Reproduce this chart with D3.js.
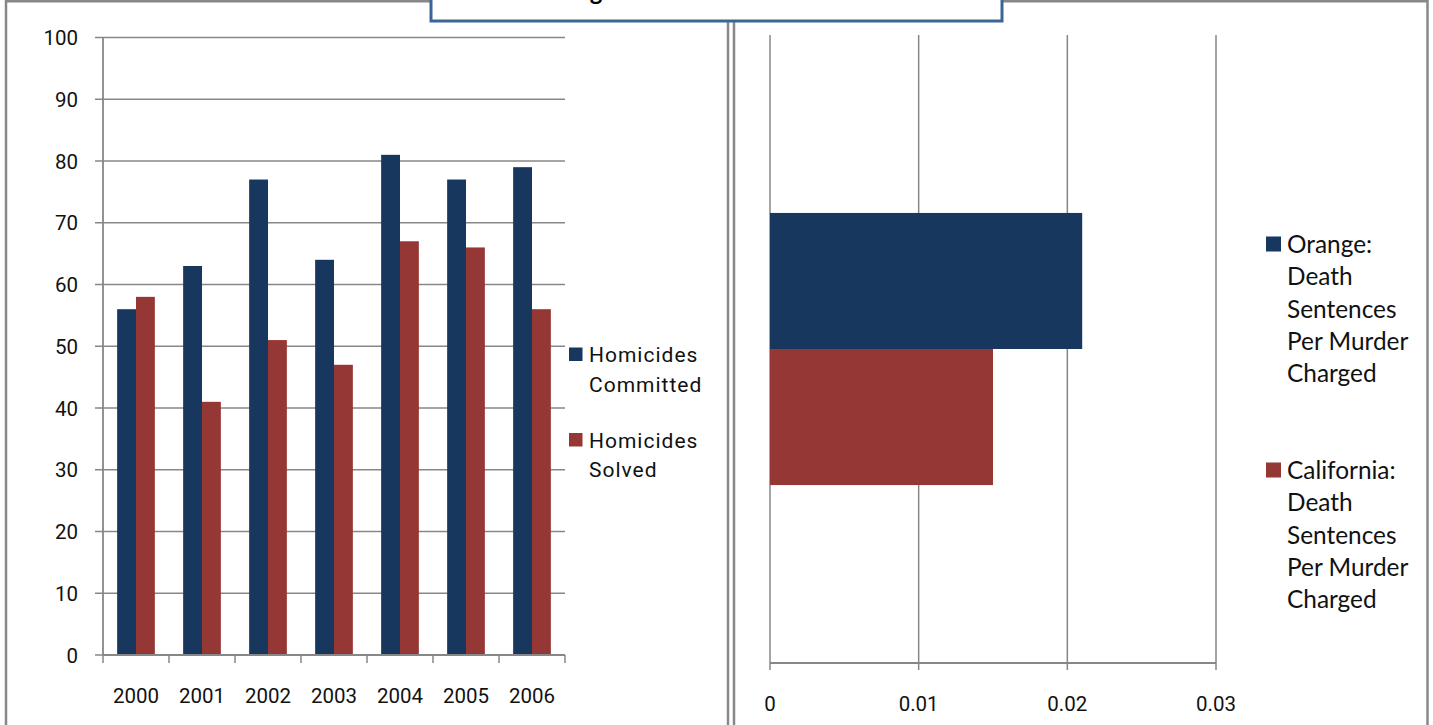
<!DOCTYPE html>
<html lang="en">
<head>
<meta charset="UTF-8">
<title>Homicides and Death Sentences</title>
<script src="https://d3js.org/d3.v7.min.js"></script>
<style>
  body { margin: 0; background: #fff; }
  .axis-text { font-family: Roboto, "Liberation Sans", sans-serif; font-size: 20.5px; fill: #111; }
  .legend-left { font-family: Roboto, sans-serif; font-size: 21px; letter-spacing: 1px; fill: #111; }
  .legend-right { font-family: Lato, "Open Sans", sans-serif; font-size: 24.4px; fill: #111; }
</style>
</head>
<body>
<div id="chart"></div>
<script>
// ---- data ----
const years = ["2000", "2001", "2002", "2003", "2004", "2005", "2006"];
const committed = [56, 63, 77, 64, 81, 77, 79];
const solved = [58, 41, 51, 47, 67, 66, 56];
const leftSeries = ["Homicides Committed", "Homicides Solved"];
const leftTicks = [0, 10, 20, 30, 40, 50, 60, 70, 80, 90, 100];

const rightSeries = ["Orange: Death Sentences Per Murder Charged", "California: Death Sentences Per Murder Charged"];
const rightValues = [0.021, 0.015];
const rightTicks = [0, 0.01, 0.02, 0.03];

const colors = ["#17375e", "#953735"];
const gridColor = "#878787";

const W = 1433, H = 725;
const svg = d3.select("#chart").append("svg")
  .attr("width", W).attr("height", H);

// frames
const frame = svg.append("g").attr("fill", "none").attr("stroke", "#888").attr("stroke-width", 2.5);
frame.append("path").attr("d", "M6,725V1.2H728V725");
frame.append("path").attr("d", "M734,725V1.2H1427.5V725");

// ---- left chart ----
const x = d3.scaleBand().domain(years).range([103, 565]);
const xi = d3.scaleBand().domain(leftSeries).range([0, x.bandwidth()]).paddingOuter(0.75);
const y = d3.scaleLinear().domain([0, 100]).range([655, 37.5]);

const left = svg.append("g");
left.selectAll("line.grid").data(leftTicks).join("line")
  .attr("x1", 95).attr("x2", x.range()[1])
  .attr("y1", d => y(d)).attr("y2", d => y(d))
  .attr("stroke", gridColor).attr("stroke-width", 1.5);

const rows = years.map((yr, i) => ({ year: yr, vals: [committed[i], solved[i]] }));
left.selectAll("g.cat").data(rows).join("g")
  .attr("transform", d => `translate(${x(d.year)},0)`)
  .selectAll("rect").data(d => d.vals.map((v, j) => ({ s: leftSeries[j], v, j })))
  .join("rect")
  .attr("x", d => xi(d.s)).attr("width", xi.bandwidth())
  .attr("y", d => y(d.v)).attr("height", d => y(0) - y(d.v))
  .attr("fill", d => colors[d.j]);

// axis lines
left.append("line").attr("x1", 103).attr("x2", 103).attr("y1", y(100)).attr("y2", y(0))
  .attr("stroke", gridColor).attr("stroke-width", 1.8);
left.append("line").attr("x1", 103).attr("x2", 565).attr("y1", y(0)).attr("y2", y(0))
  .attr("stroke", gridColor).attr("stroke-width", 1.8);
const bounds = years.map(d => x(d)).concat([x.range()[1]]);
left.selectAll("line.xt").data(bounds).join("line")
  .attr("x1", d => d).attr("x2", d => d).attr("y1", y(0)).attr("y2", y(0) + 8)
  .attr("stroke", gridColor).attr("stroke-width", 1.5);

left.selectAll("text.yl").data(leftTicks).join("text")
  .attr("class", "axis-text").attr("text-anchor", "end")
  .attr("x", 78).attr("y", d => y(d) + 7.5).text(d => d);
left.selectAll("text.xl").data(years).join("text")
  .attr("class", "axis-text").attr("text-anchor", "middle")
  .attr("x", d => x(d) + x.bandwidth() / 2).attr("y", 703).text(d => d);

// left legend
const leg = svg.append("g");
const legLines = [["Homicides", "Committed"], ["Homicides", "Solved"]];
legLines.forEach((lines, i) => {
  const top = 347.5 + i * 85.5;
  leg.append("rect").attr("x", 569).attr("y", top).attr("width", 13.5).attr("height", 13.5)
    .attr("fill", colors[i]);
  lines.forEach((t, k) => {
    leg.append("text").attr("class", "legend-left")
      .attr("x", 589).attr("y", top + 14.5 + k * 29.5).text(t);
  });
});

// ---- right chart ----
const xr = d3.scaleLinear().domain([0, 0.03]).range([770, 1216]);
const yr = d3.scaleBand().domain(["all"]).range([35, 663]).paddingInner(0).paddingOuter(0.654);
const yri = d3.scaleBand().domain(rightSeries).range([0, yr.bandwidth()]);

const right = svg.append("g");
right.selectAll("line.vg").data(rightTicks).join("line")
  .attr("x1", d => xr(d)).attr("x2", d => xr(d)).attr("y1", 35).attr("y2", 670)
  .attr("stroke", gridColor).attr("stroke-width", 1.5);

right.selectAll("rect").data(rightValues.map((v, j) => ({ s: rightSeries[j], v, j })))
  .join("rect")
  .attr("x", xr(0)).attr("width", d => xr(d.v) - xr(0))
  .attr("y", d => yr("all") + yri(d.s)).attr("height", yri.bandwidth())
  .attr("fill", d => colors[d.j]);

right.append("line").attr("x1", xr(0)).attr("x2", xr(0.03)).attr("y1", 663).attr("y2", 663)
  .attr("stroke", gridColor).attr("stroke-width", 1.8);
right.selectAll("text.xl").data(rightTicks).join("text")
  .attr("class", "axis-text").attr("text-anchor", "middle")
  .attr("x", d => xr(d)).attr("y", 711).text(d => d);

// right legend
const rleg = svg.append("g");
const rLines = [["Orange:", "Death", "Sentences", "Per Murder", "Charged"],
                ["California:", "Death", "Sentences", "Per Murder", "Charged"]];
rLines.forEach((lines, i) => {
  const top = 236.5 + i * 226;
  rleg.append("rect").attr("x", 1266).attr("y", top).attr("width", 15).attr("height", 15)
    .attr("fill", colors[i]);
  lines.forEach((t, k) => {
    rleg.append("text").attr("class", "legend-right")
      .attr("x", 1287).attr("y", top + 16.5 + k * 32.3).text(t);
  });
});

// title box (cropped at the top, as in the source)
svg.append("rect").attr("x", 431).attr("y", -10).attr("width", 571).attr("height", 31)
  .attr("fill", "#fff").attr("stroke", "#3b6497").attr("stroke-width", 3);
svg.append("text").attr("x", 462).attr("y", -0.5)
  .attr("font-family", "Lato, sans-serif").attr("font-weight", "bold").attr("font-size", 24)
  .attr("fill", "#000").text("Homicide Figures and Death Sentences");
</script>
</body>
</html>
